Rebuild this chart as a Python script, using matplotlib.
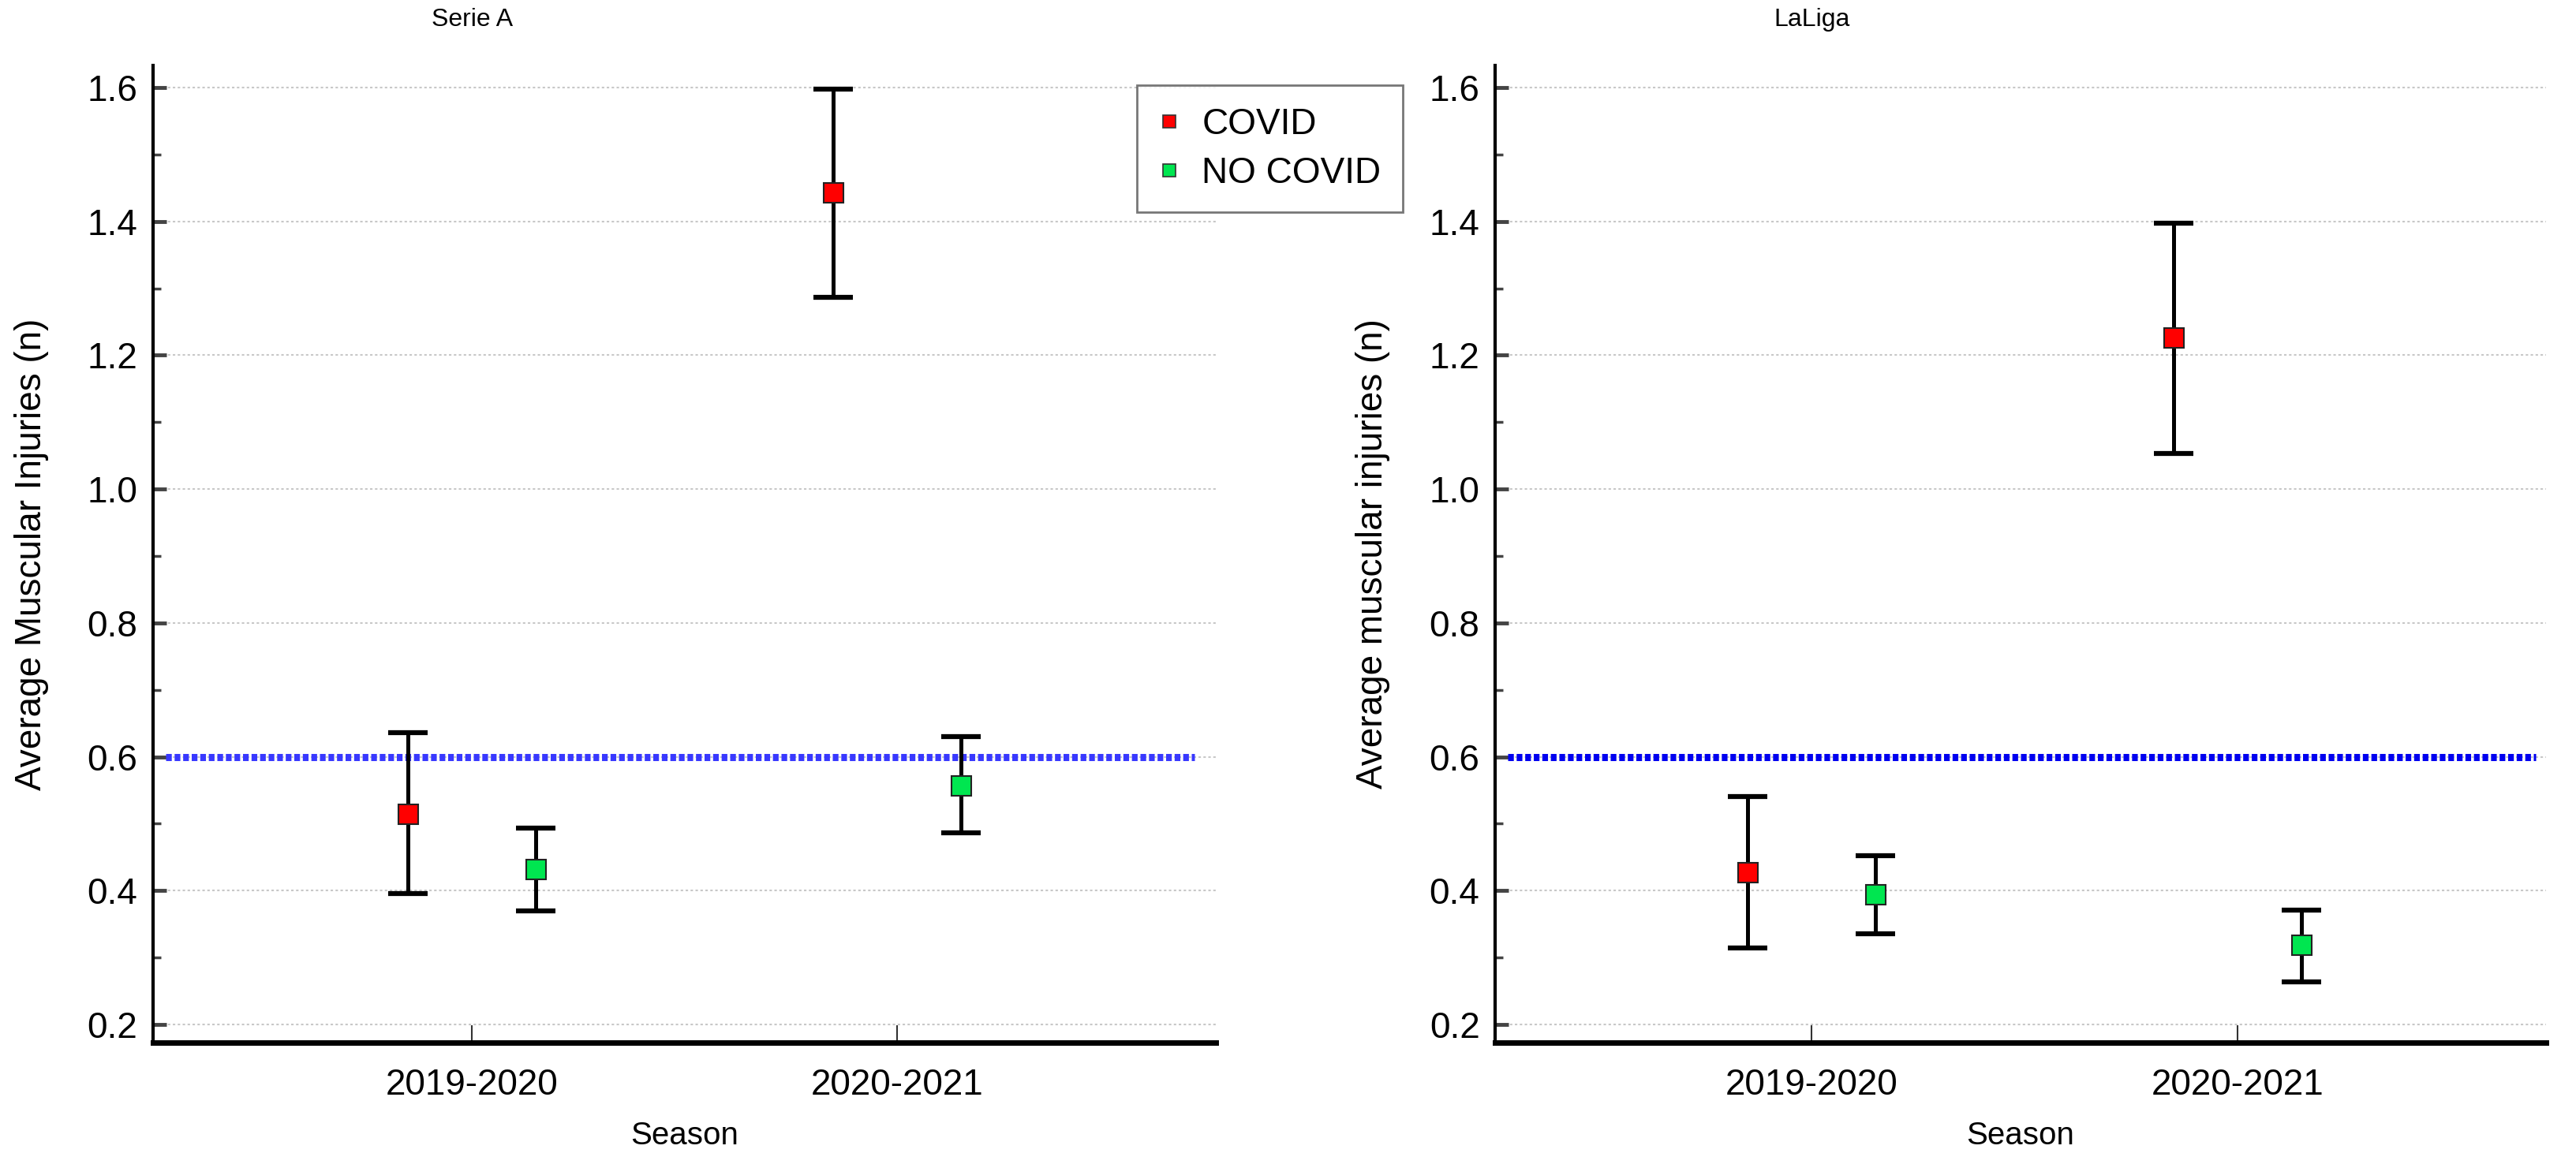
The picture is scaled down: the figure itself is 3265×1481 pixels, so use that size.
import numpy as np
import matplotlib.pyplot as plt
from matplotlib.ticker import MultipleLocator
from matplotlib.lines import Line2D
import matplotlib.transforms as mtransforms

plt.rcParams['font.family'] = ['Liberation Sans', 'DejaVu Sans']

seasons = ['2019-2020', '2020-2021']
ref_level = 0.6

# Serie A
serie_covid = [0.515, 1.443]
serie_covid_lo = [0.396, 1.287]
serie_covid_hi = [0.636, 1.598]
serie_nocovid = [0.432, 0.557]
serie_nocovid_lo = [0.370, 0.486]
serie_nocovid_hi = [0.494, 0.630]

# LaLiga
liga_covid = [0.427, 1.226]
liga_covid_lo = [0.314, 1.053]
liga_covid_hi = [0.541, 1.397]
liga_nocovid = [0.394, 0.319]
liga_nocovid_lo = [0.335, 0.264]
liga_nocovid_hi = [0.452, 0.371]

panels = [
    ('Serie A', 'Average Muscular Injuries (n)',
     serie_covid, serie_covid_lo, serie_covid_hi,
     serie_nocovid, serie_nocovid_lo, serie_nocovid_hi, '#3838ff'),
    ('LaLiga', 'Average muscular injuries (n)',
     liga_covid, liga_covid_lo, liga_covid_hi,
     liga_nocovid, liga_nocovid_lo, liga_nocovid_hi, '#0000f0'),
]

red = '#ff0000'
green = '#00e650'

fig = plt.figure(figsize=(32.65, 14.81), dpi=100)
ax_boxes = [[0.0594, 0.1074, 0.4126, 0.8366],
            [0.5804, 0.1074, 0.4080, 0.8366]]
xlims = [(0.25, 2.75), (0.257, 2.724)]
ylab_x = [-0.098, -0.100]

x = np.arange(1, len(seasons) + 1)
off = 0.15

for box, xl, lx, p in zip(ax_boxes, xlims, ylab_x, panels):
    title, ylab, c, clo, chi, n, nlo, nhi, refcol = p
    ax = fig.add_axes(box)

    ax.plot([xl[0] + 0.03, 2.70], [ref_level, ref_level], color=refcol, lw=6.5,
            linestyle=(0, (0.8, 0.4)), dash_capstyle='butt', zorder=2)

    for xs, m, lo, hi, col in [(x - off, c, clo, chi, red), (x + off, n, nlo, nhi, green)]:
        m = np.array(m)
        err = [m - np.array(lo), np.array(hi) - m]
        # error bars first, then the square markers on top
        ax.errorbar(xs, m, yerr=err, fmt='none', ecolor='black',
                    elinewidth=3.6, capsize=18, capthick=4.5, zorder=3)
        ax.plot(xs, m, 's', ms=18, mfc=col, mec='#222222', mew=1.5, zorder=4)

    ax.set_xlim(*xl)
    ax.set_ylim(0.173, 1.633)
    ax.set_xticks(x)
    ax.set_xticklabels(seasons)
    ax.yaxis.set_minor_locator(MultipleLocator(0.1))
    ax.set_yticks(np.arange(0.2, 1.61, 0.2))
    ax.set_yticklabels(['%.1f' % v for v in np.arange(0.2, 1.61, 0.2)])

    ax.grid(axis='y', which='major', color='#c8c8c8', linestyle=(0, (1.5, 1.5)), lw=1.5, zorder=0)

    for s in ['top', 'right']:
        ax.spines[s].set_visible(False)
    ax.spines['left'].set_linewidth(3)
    ax.spines['bottom'].set_linewidth(5)

    ax.tick_params(axis='y', which='major', direction='in', length=12, width=3.5,
                   color='#444444', labelsize=33, pad=14)
    ax.tick_params(axis='y', which='minor', direction='in', length=7, width=2.5, color='#444444')
    ax.tick_params(axis='x', which='major', direction='in', length=16, width=1.5,
                   color='#333333', labelsize=33, pad=23)

    ax.set_xlabel('Season', fontsize=29)
    ax.xaxis.set_label_coords(0.5, -0.08)
    ax.set_ylabel(ylab, fontsize=33)
    ax.yaxis.set_label_coords(lx, 0.5)

    trans = mtransforms.blended_transform_factory(ax.transData, ax.transAxes)
    ax.text(1.0, 1.047, title, transform=trans, ha='center', va='center', fontsize=23)

handles = [Line2D([], [], marker='s', ls='none', ms=12, mfc=red, mec='#333333', mew=1.2),
           Line2D([], [], marker='s', ls='none', ms=12, mfc=green, mec='#333333', mew=1.2)]
leg = fig.legend(handles, ['COVID', 'NO COVID'], loc='upper left',
                 bbox_to_anchor=(0.4413, 0.927), borderaxespad=0, fontsize=33,
                 frameon=True, fancybox=False, handlelength=0.6, handletextpad=0.6,
                 borderpad=0.6, labelspacing=0.4)
leg.get_frame().set_edgecolor('#555555')
leg.get_frame().set_linewidth(2)

fig.savefig('out.png', dpi=100)
